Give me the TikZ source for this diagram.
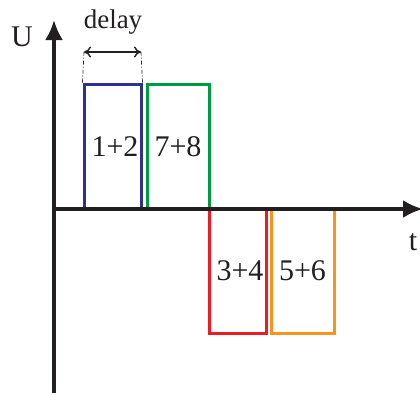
\documentclass[tikz,border=0pt]{standalone}
\usepackage{fontspec}
\setmainfont{Liberation Serif}
\usetikzlibrary{arrows.meta}
\definecolor{axisc}{RGB}{35,31,32}
\definecolor{pblue}{RGB}{46,49,146}
\definecolor{pgreen}{RGB}{0,153,68}
\definecolor{pred}{RGB}{237,28,36}
\definecolor{porange}{RGB}{247,148,29}
\tikzset{
  axis/.style={line width=3.4pt, draw=axisc, -{Latex[length=20pt,width=18pt]}},
  pulse/.style={draw=#1, line width=3pt, rectangle, inner sep=0pt, text=axisc,
    font=\fontsize{30}{30}\selectfont},
  lbl/.style={text=axisc, inner sep=0pt},
}
\begin{document}
\begin{tikzpicture}[x=1pt,y=-1pt]
\useasboundingbox (0,0) rectangle (420,394);
% pulses
\node[pulse=pblue, minimum width=57pt, minimum height=125pt] (p12) at (112.5,146.5) {\raisebox{-4pt}{\hspace{5pt}1+2}};
\node[pulse=pgreen, minimum width=62pt, minimum height=125pt] (p78) at (178,146.5) {\raisebox{-4pt}{7+8}};
\node[pulse=pred, minimum width=57pt, minimum height=124pt] (p34) at (237.5,271) {\hspace{5pt}3+4};
\node[pulse=porange, minimum width=63pt, minimum height=124pt] (p56) at (302.5,271) {5+6};
% axes
\coordinate (o) at (54,209);
\coordinate (ybot) at (54,393);
\coordinate (ytop) at (54,20);
\coordinate (xend) at (423,209);
\draw[axis] (ybot) -- (ytop);
\draw[axis] (o) -- (xend);
\node[lbl, font=\fontsize{30}{30}\selectfont] (U) at (22,37) {U};
\node[lbl, font=\fontsize{30}{30}\selectfont] (t) at (413,242) {t};
% delay
\coordinate (d1) at (p12.north west);
\coordinate (d2) at (p12.north east);
\coordinate (a1) at (84,52);
\coordinate (a2) at (141,52);
\draw[axisc, line width=0.7pt, dash pattern=on 4pt off 2pt on 1pt off 2pt] (d1) -- (a1) (d2) -- (a2);
\draw[axisc, line width=1.4pt, {To[length=7pt,width=11pt]}-{To[length=7pt,width=11pt]}] (a1) -- (a2);
\node[lbl, font=\fontsize{27}{27}\selectfont] (delay) at (113,22) {delay};
\end{tikzpicture}
\end{document}
